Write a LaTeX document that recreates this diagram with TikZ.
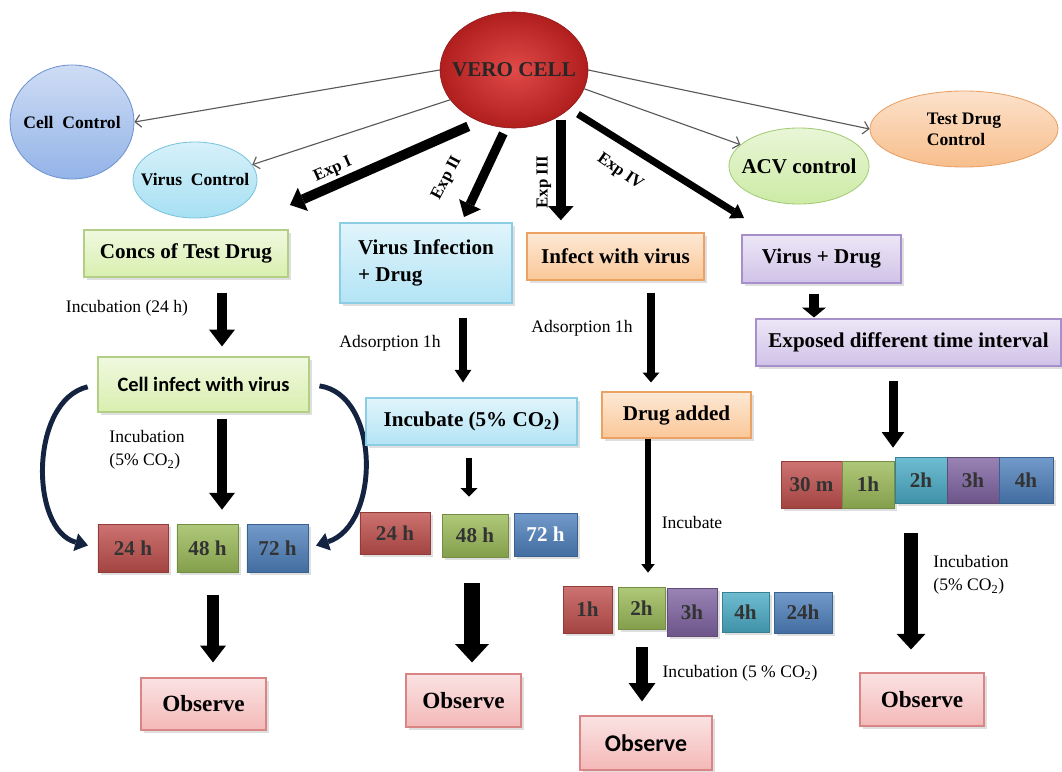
\documentclass[tikz,border=0pt]{standalone}
\usepackage{fontspec}
\setmainfont{Liberation Serif}
\newfontfamily\carl{Carlito}
\usetikzlibrary{arrows.meta,shapes.geometric,shadows,calc}

\definecolor{veroL}{HTML}{E04A48}
\definecolor{veroC}{HTML}{B01E1E}
\definecolor{veroD}{HTML}{8E1A1A}
\definecolor{cellC}{HTML}{93B3E8}
\definecolor{cellD}{HTML}{6F92CF}
\definecolor{virC}{HTML}{A6E0F3}
\definecolor{virD}{HTML}{7CC4DE}
\definecolor{acvC}{HTML}{CDEBA6}
\definecolor{acvD}{HTML}{A3CB76}
\definecolor{tdcC}{HTML}{F8BE8C}
\definecolor{tdcD}{HTML}{E7A066}
\definecolor{grnL}{HTML}{D9EFAF}
\definecolor{grnD}{HTML}{B3CF85}
\definecolor{cyaL}{HTML}{B3E4F5}
\definecolor{cyaD}{HTML}{8CCDE6}
\definecolor{orgL}{HTML}{FAC797}
\definecolor{orgD}{HTML}{EBA262}
\definecolor{purL}{HTML}{D0C2E8}
\definecolor{purD}{HTML}{A68FCB}
\definecolor{pnkL}{HTML}{F4B8B8}
\definecolor{pnkD}{HTML}{D98585}
\definecolor{tred}{HTML}{C0504D}
\definecolor{tgrn}{HTML}{9BBB59}
\definecolor{tblu}{HTML}{4F81BD}
\definecolor{tpur}{HTML}{8064A2}
\definecolor{tcya}{HTML}{4BACC6}
\definecolor{navyD}{HTML}{14233F}

\tikzset{
  every node/.style={inner sep=0pt},
  vero/.style={ellipse, inner sep=-10pt, minimum width=3.7cm, minimum height=2.9cm,
    draw=veroD, inner color=veroL, outer color=veroC,
    font=\fontsize{15}{18}\selectfont\bfseries, text=black!85},
  oval/.style 2 args={ellipse, inner sep=-10pt, draw=#2, line width=0.6pt,
    top color=#1!45!white, bottom color=#1, font=\fontsize{12.5}{15}\selectfont\bfseries},
  pbox/.style 2 args={rectangle, draw=#2, line width=0.8pt, top color=#1!40!white,
    bottom color=#1, drop shadow={opacity=0.25},
    font=\fontsize{15}{19}\selectfont\bfseries, align=left},
  tbox/.style={rectangle, draw=#1!75!black, line width=0.5pt, top color=#1!80!white,
    bottom color=#1!85!black, drop shadow={opacity=0.25},
    font=\fontsize{15}{18}\selectfont\bfseries, text=black!80},
  obox/.style={pbox={pnkL}{pnkD}, font=\fontsize{16.5}{20}\selectfont\bfseries},
  note/.style={font=\fontsize{12.5}{16}\selectfont, align=left},
  explbl/.style={font=\fontsize{12}{14}\selectfont\bfseries},
  thinarr/.style={draw=black!65, line width=0.8pt, -{Straight Barb[length=4pt,width=9pt]}},
  fat/.style n args={3}{line width=#1pt, -{Triangle[width=#2pt,length=#3pt,line width=0pt]}},
  curv/.style={draw=navyD, line width=3.5pt, -{Triangle[width=13pt,length=9pt,line width=0pt]}},
}

\begin{document}
\begin{tikzpicture}[x=0.025cm, y=-0.025cm]
    \useasboundingbox (0,0) rectangle (1062,771);

    %% Vero cell and its controls
    \node[vero] (vero) at (514,70) {VERO CELL};
    \node[oval={cellC}{cellD}, minimum width=3.1cm, minimum height=2.85cm] (cellctrl) at (72,122) {Cell\ \ Control};
    \node[oval={virC}{virD}, minimum width=3.1cm, minimum height=1.9cm] (virctrl) at (195,180) {Virus\ \ Control};
    \node[oval={acvC}{acvD}, minimum width=3.5cm, minimum height=1.9cm, font=\fontsize{15}{18}\selectfont\bfseries] (acvctrl) at (799,166) {ACV control};
    \node[oval={tdcC}{tdcD}, minimum width=4.7cm, minimum height=1.9cm, align=left] (tdcctrl) at (964,129) {Test Drug\\Control};

    \draw[thinarr] (vero.west) -- (cellctrl.east);
    \draw[thinarr] (vero.205) -- (virctrl.15);
    \draw[thinarr] (vero.345) -- (acvctrl.160);
    \draw[thinarr] (vero.east) -- (tdcctrl.west);

    %% Experiment arrows
    \coordinate (e1) at (290,205);
    \coordinate (e2) at (464,217);
    \coordinate (e3) at ($(vero.316)+(0,105)$);
    \coordinate (e4) at (744,218);
    \draw[fat={7}{18}{10}, shorten <=0.3cm] (vero.236) -- (e1);
    \draw[fat={6.5}{17}{10}, shorten <=0.15cm] (vero.262) -- (e2);
    \draw[fat={7}{18}{10}, shorten <=0.12cm] (vero.316) -- (e3);
    \draw[fat={5}{12}{9}, shorten <=0.25cm] (vero.325) -- (e4);
    \node[explbl, rotate=24] (lblI) at (333,170) {Exp I};
    \node[explbl, rotate=62] (lblII) at (447,178) {Exp II};
    \node[explbl, rotate=90] (lblIII) at (544,182) {Exp III};
    \node[explbl, rotate=-35] (lblIV) at (620,172) {Exp IV};

    %% Exp I
    \node[pbox={grnL}{grnD}, minimum width=5.1cm, minimum height=1.175cm] (concs) at (186,253.5) {Concs of Test Drug};
    \node[pbox={grnL}{grnD}, minimum width=5.275cm, minimum height=1.375cm, font=\carl\fontsize{14.5}{18}\selectfont\bfseries] (cellinf) at (203.5,384.5) {Cell infect with virus};
    \node[tbox=tred, minimum width=1.75cm, minimum height=1.2cm] (a24) at (133,548) {24 h};
    \node[tbox=tgrn, minimum width=1.525cm, minimum height=1.2cm] (a48) at (207.5,548) {48 h};
    \node[tbox=tblu, minimum width=1.525cm, minimum height=1.2cm] (a72) at (277.5,548) {72 h};
    \node[obox, minimum width=3.125cm, minimum height=1.3cm] (o1) at (203.5,704) {Observe};

    \coordinate (xa1) at (222,0);
    \coordinate (xa2) at (213,0);
    \draw[fat={7}{18.5}{12}, shorten <=0.375cm, shorten >=0.25cm] (xa1 |- concs.south) -- (xa1 |- cellinf.north);
    \draw[fat={7}{18.5}{12}, shorten <=0.15cm, shorten >=0.35cm] (xa1 |- cellinf.south) -- (xa1 |- a48.north);
    \draw[fat={8.5}{18.5}{12}, shorten <=0.575cm, shorten >=0.375cm] (xa2 |- a72.south) -- (xa2 |- o1.north);
    \draw[curv, shorten <=0.25cm, shorten >=0.25cm] (cellinf.west) .. controls +(-68,16) and +(-68,-18) .. (a24.west);
    \draw[curv, shorten <=0.25cm, shorten >=0.2cm] (cellinf.east) .. controls +(71,10) and +(72,-23) .. (a72.east);
    \node[note] (n1) at (127,308) {Incubation (24 h)};
    \node[note] (n2) at (147,450) {Incubation\\(5\% CO\textsubscript{2})};

    %% Exp II
    \node[pbox={cyaL}{cyaD}, minimum width=4.3cm, minimum height=2cm] (virinf) at (426,263) {Virus Infection\\+ Drug};
    \node[pbox={cyaL}{cyaD}, minimum width=5.275cm, minimum height=1.175cm] (incub) at (471.5,421.5) {Incubate (5\% CO\textsubscript{2})};
    \node[tbox=tred, minimum width=1.75cm, minimum height=1.05cm] (b24) at (395,533) {24 h};
    \node[tbox=tgrn, minimum width=1.65cm, minimum height=1.075cm] (b48) at (475,535.5) {48 h};
    \node[tbox=tblu, minimum width=1.575cm, minimum height=1.075cm, text=white] (b72) at (545.5,534.5) {72 h};
    \node[obox, minimum width=2.875cm, minimum height=1.325cm] (o2) at (463.5,700.5) {Observe};

    \coordinate (xb1) at (463,0);
    \coordinate (xb2) at (469,0);
    \coordinate (xb3) at (472,0);
    \draw[fat={5.3}{12}{9}, shorten <=0.35cm, shorten >=0.375cm] (xb1 |- virinf.south) -- (xb1 |- incub.north);
    \draw[fat={4}{12}{6}, shorten <=0.3cm, shorten >=0.425cm] (xb2 |- incub.south) -- (xb2 |- b48.north);
    \draw[fat={12}{24}{13}, shorten <=0.65cm, shorten >=0.275cm] (xb3 |- b48.south) -- (xb3 |- o2.north);
    \node[note] (n3) at (390,343) {Adsorption 1h};

    %% Exp III
    \node[pbox={orgL}{orgD}, minimum width=4.425cm, minimum height=1.175cm] (infect) at (615.5,256.5) {Infect with virus};
    \node[pbox={orgL}{orgD}, minimum width=3.725cm, minimum height=1.15cm] (drugadd) at (676.5,415) {Drug added};
    \node[tbox=tred, minimum width=1.225cm, minimum height=1.175cm] (c1) at (587.5,609.5) {1h};
    \node[tbox=tgrn, minimum width=1.175cm, minimum height=1.05cm] (c2) at (641.5,608) {2h};
    \node[tbox=tpur, minimum width=1.25cm, minimum height=1.2cm] (c3) at (692,612) {3h};
    \node[tbox=tcya, minimum width=1.175cm, minimum height=1cm] (c4) at (745.5,612) {4h};
    \node[tbox=tblu, minimum width=1.45cm, minimum height=1.025cm] (c24) at (803,612.5) {24h};
    \node[obox, minimum width=3.3cm, minimum height=1.35cm, font=\carl\fontsize{17}{20}\selectfont\bfseries] (o3) at (646,743) {Observe};

    \coordinate (xc1) at (651,0);
    \coordinate (xc2) at (648,0);
    \coordinate (xc3) at (642,0);
    \draw[fat={5}{12}{7}, shorten <=0.3cm, shorten >=0.225cm] (xc1 |- infect.south) -- (xc1 |- drugadd.north);
    \draw[fat={4.5}{9.5}{6}, shorten >=0.35cm] (xc2 |- drugadd.south) -- (xc2 |- c2.north);
    \draw[fat={9}{19}{13}, shorten <=0.45cm, shorten >=0.35cm] (xc3 |- c2.south) -- (xc3 |- o3.north);
    \node[note] (n4) at (582,328) {Adsorption 1h};
    \node[note] (n5) at (692,522) {Incubate};
    \node[note] (n6) at (740,673) {Incubation (5 \% CO\textsubscript{2})};

    %% Exp IV
    \node[pbox={purL}{purD}, minimum width=3.975cm, minimum height=1.2cm] (virdrug) at (821.5,259) {Virus + Drug};
    \node[pbox={purL}{purD}, minimum width=7.625cm, minimum height=1.175cm] (exposed) at (908.5,342.5) {Exposed different time interval};
    \node[tbox=tred, minimum width=1.525cm, minimum height=1.175cm] (d30) at (811.5,484.5) {30 m};
    \node[tbox=tgrn, minimum width=1.3cm, minimum height=1.175cm] (d1) at (868,484.5) {1h};
    \node[tbox=tcya, minimum width=1.3cm, minimum height=1.15cm] (d2) at (921,480) {2h};
    \node[tbox=tpur, minimum width=1.3cm, minimum height=1.15cm] (d3) at (973,480) {3h};
    \node[tbox=tblu, minimum width=1.35cm, minimum height=1.15cm] (d4) at (1026,480) {4h};
    \node[obox, minimum width=3.1cm, minimum height=1.325cm] (o4) at (922,699.5) {Observe};

    \coordinate (xd1) at (814,0);
    \coordinate (xd2) at (893,0);
    \coordinate (xd3) at (911,0);
    \draw[fat={7}{17}{7}, shorten <=0.25cm, shorten >=0.025cm] (xd1 |- virdrug.south) -- (xd1 |- exposed.north);
    \draw[fat={6.4}{16}{11}, shorten <=0.35cm, shorten >=0.325cm] (xd2 |- exposed.south) -- (xd2 |- d1.north);
    \draw[fat={10}{20.5}{11}, shorten <=0.625cm, shorten >=0.575cm] (xd3 |- d1.south) -- (xd3 |- o4.north);
    \node[note] (n7) at (971,575) {Incubation\\(5\% CO\textsubscript{2})};

\end{tikzpicture}
\end{document}
